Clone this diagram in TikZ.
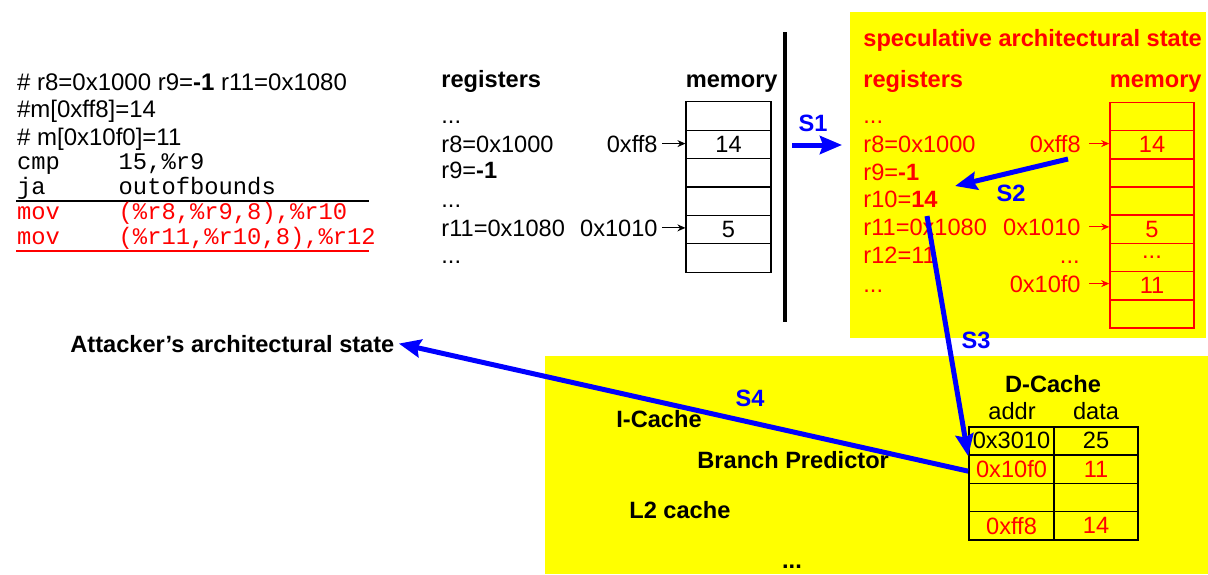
\documentclass[tikz,border=0pt]{standalone}
\usepackage{fontspec}
\setmainfont{Liberation Sans}
\setmonofont{Liberation Mono}
\usetikzlibrary{arrows.meta,calc}
\newcommand\regfs{\fontsize{11.8}{14}\selectfont}
\newcommand\codefs{\fontsize{12}{14}\selectfont}
\newcommand\monofs{\fontsize{11.9}{14}\selectfont\ttfamily}
\newcommand\threedots{...}
\definecolor{hiyellow}{RGB}{255,255,0}
\definecolor{hired}{RGB}{255,0,0}
\definecolor{hiblue}{RGB}{0,0,255}
\tikzset{
  txt/.style={inner sep=0pt, anchor=base west, font=\regfs},
  ctxt/.style={inner sep=0pt, anchor=base west, font=\codefs},
  btxt/.style={txt, font=\regfs\bfseries},
  mono/.style={inner sep=0pt, anchor=base west, font=\monofs},
  cellb/.style={draw=black, line width=0.6pt, minimum width=42.5pt, minimum height=14.2pt, inner sep=0pt, font=\regfs},
  cellr/.style={draw=hired, line width=0.8pt, text=hired, minimum width=42pt, minimum height=14.1pt, inner sep=0pt, font=\regfs},
  celld/.style={draw=black, line width=0.8pt, minimum height=14.15pt, inner sep=0pt, font=\regfs},
  sarr/.style={-{Stealth[length=4pt,width=3.5pt]}, line width=0.5pt},
  barr/.style={hiblue, line width=2.5pt, -{Stealth[length=11pt,width=9pt,inset=1.5pt]}},
  slab/.style={inner sep=0pt, text=hiblue, font=\regfs\bfseries},
}
\begin{document}
\begin{tikzpicture}[x=0.5pt,y=-0.5pt]
\useasboundingbox (0,0) rectangle (1208,574);
% yellow areas
\fill[hiyellow] (850,12) rectangle (1206,338);
\fill[hiyellow] (545,356) rectangle (1208,574);

% left code
\node[ctxt] (c1) at (16.7,90) {\# r8=0x1000 r9=\textbf{-1} r11=0x1080};
\node[ctxt] (c2) at (16.7,117) {\#m[0xff8]=14};
\node[ctxt] (c3) at (16.7,145) {\# m[0x10f0]=11};
\node[mono] (c4a) at (16.7,169) {cmp};
\node[mono] (c4b) at (118.3,169) {15,\%r9};
\node[mono] (c5a) at (16.7,194) {ja};
\node[mono] (c5b) at (118.3,194) {outofbounds};
\coordinate (u1a) at (16,201); \coordinate (u1b) at (369,201);
\draw[line width=0.6pt] (u1a) -- (u1b);
\node[mono,text=hired] (c6a) at (16.7,219) {mov};
\node[mono,text=hired] (c6b) at (118.3,219) {(\%r8,\%r9,8),\%r10};
\node[mono,text=hired] (c7a) at (16.7,244) {mov};
\node[mono,text=hired] (c7b) at (118.3,244) {(\%r11,\%r10,8),\%r12};
\coordinate (u2a) at (16,251); \coordinate (u2b) at (369,251);
\draw[hired,line width=0.6pt] (u2a) -- (u2b);

% architectural state (black)
\node[btxt] (regh) at (441,87) {registers};
\node[btxt,anchor=base east] (memh) at (778,87) {memory};
\node[txt] (r1) at (441,123) {...};
\node[txt] (r2) at (441,152) {r8=0x1000};
\node[txt] (r3) at (441,178) {r9=\textbf{-1}};
\node[txt] (r4) at (441,207) {...};
\node[txt] (r5) at (441,236) {r11=0x1080};
\node[txt] (r6) at (441,263) {...};
\foreach \i/\t in {1/{},2/{14},3/{},4/{},5/{5},6/{}}{
  \node[cellb] (m\i) at (728.5,{101.8+28.4*(\i-0.5)}) {\t};
}
\node[txt,anchor=base east] (la1) at (658,152) {0xff8};
\node[txt,anchor=base east] (la2) at (658,236) {0x1010};
\draw[sarr] ([xshift=2pt]la1.east) -- (la1.east -| m2.west);
\draw[sarr] ([xshift=2pt]la2.east) -- (la2.east -| m5.west);

% separator
\coordinate (sep1) at (785,32); \coordinate (sep2) at (785,322);
\draw[line width=2.3pt] (sep1) -- (sep2);

% speculative state (red)
\node[btxt,text=hired] (spec) at (863,46) {speculative architectural state};
\node[btxt,text=hired] (sregh) at (863,87) {registers};
\node[btxt,text=hired,anchor=base east] (smemh) at (1202,87) {memory};
\node[txt,text=hired] (s1) at (863,123) {...};
\node[txt,text=hired] (s2) at (863,152) {r8=0x1000};
\node[txt,text=hired] (s3) at (863,180) {r9=\textbf{-1}};
\node[txt,text=hired] (s4) at (863,207) {r10=\textbf{14}};
\node[txt,text=hired] (s5) at (863,235) {r11=0x1080};
\node[txt,text=hired] (s6) at (863,263) {r12=11};
\node[txt,text=hired] (s7) at (863,292) {...};
\foreach \i/\t in {1/{},2/{14},3/{},4/{},5/{5},6/{\threedots},7/{11},8/{}}{
  \node[cellr] (n\i) at (1152,{102.3+28.2*(\i-0.5)}) {\t};
}
\node[txt,text=hired,anchor=base east] (lb1) at (1081,152) {0xff8};
\node[txt,text=hired,anchor=base east] (lb2) at (1081,235) {0x1010};
\node[txt,text=hired,anchor=base east] (lb3) at (1080,263) {...};
\node[txt,text=hired,anchor=base east] (lb4) at (1081,292) {0x10f0};
\draw[sarr,hired] ([xshift=4pt]lb1.east) -- (lb1.east -| n2.west);
\draw[sarr,hired] ([xshift=4pt]lb2.east) -- (lb2.east -| n5.west);
\draw[sarr,hired] ([xshift=4pt]lb4.east) -- (lb4.east -| n7.west);

% microarchitectural state
\node[btxt,anchor=base] (dch) at (1053,392) {D-Cache};
\node[txt,anchor=base] (addr) at (1012,419) {addr};
\node[txt,anchor=base] (data) at (1096,419) {data};
\foreach \i/\a/\d/\c in {1/0x3010/25/black,2/0x10f0/11/hired,3/{}/{}/black,4/0xff8/14/hired}{
  \node[celld,minimum width=42.5pt,text=\c] (d\i1) at (1011.5,{426.7+28.3*(\i-0.5)}) {\a};
  \node[celld,minimum width=42pt,text=\c] (d\i2) at (1096,{426.7+28.3*(\i-0.5)}) {\d};
}
\node[btxt] (icache) at (616,427) {I-Cache};
\node[btxt] (bp) at (697,468) {Branch Predictor};
\node[btxt] (l2) at (629,518) {L2 cache};
\node[btxt,anchor=base] (dots) at (792,568) {...};
\node[btxt] (att) at (70,352) {Attacker’s architectural state};

% blue steps
\coordinate (s1a) at (792,145); \coordinate (s1b) at (842,145);
\draw[barr] (s1a) -- (s1b);
\node[slab] (S1) at (813,123) {S1};
\coordinate (s2a) at (1068,159); \coordinate (s2b) at (955,186);
\draw[barr] (s2a) -- (s2b);
\node[slab] (S2) at (1011,193) {S2};
\coordinate (s3a) at (927,216);
\draw[barr] (s3a) -- ([yshift=-1pt]d21.north west);
\node[slab] (S3) at (976,340) {S3};
\draw[barr] ([yshift=-1pt]d21.west) -- ([xshift=2pt]att.east);
\node[slab] (S4) at (750,398) {S4};
\end{tikzpicture}
\end{document}
